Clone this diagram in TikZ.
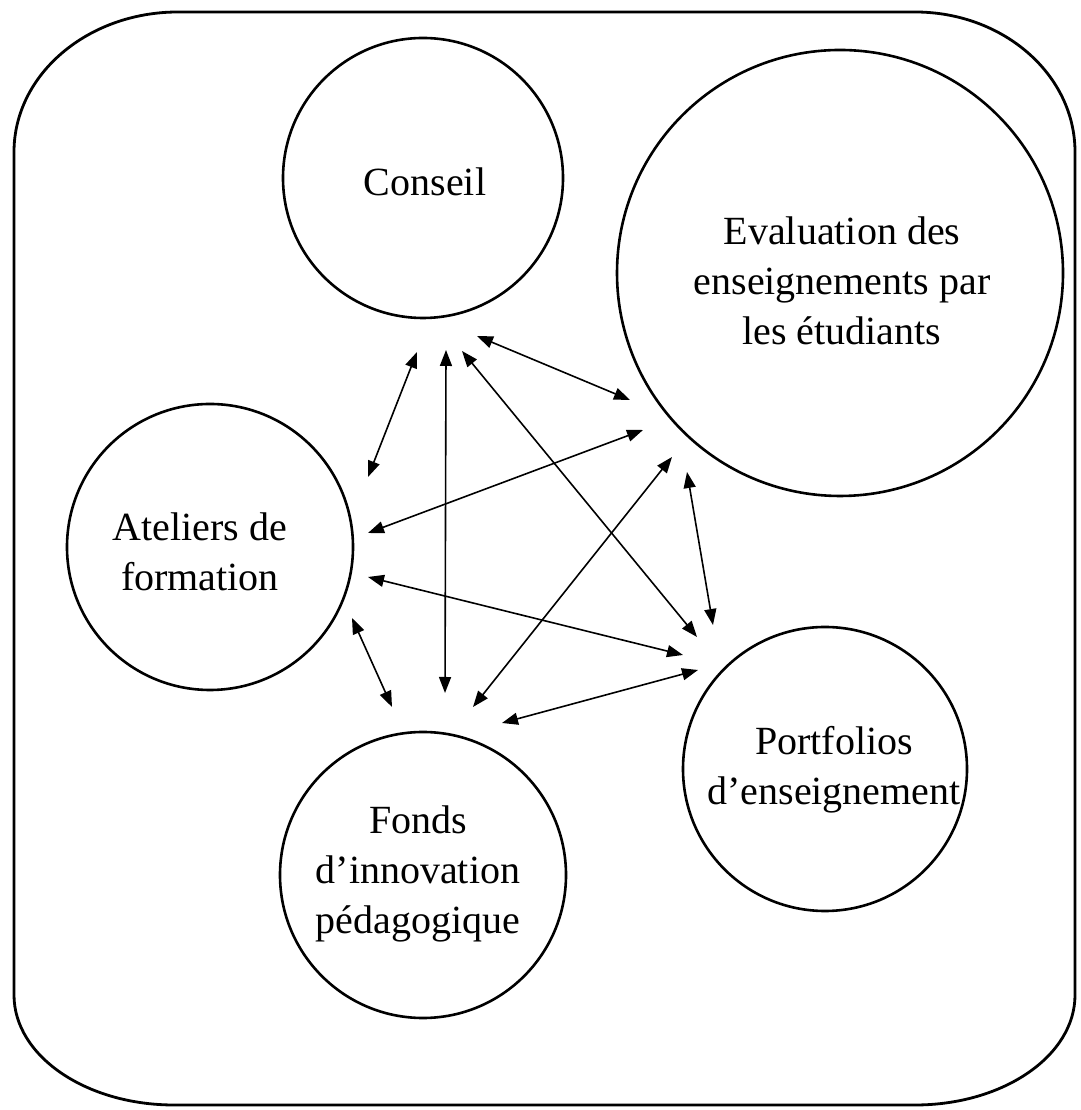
\documentclass[tikz,border=0pt]{standalone}
\usepackage{fontspec}
\setmainfont{Liberation Serif}
\usetikzlibrary{arrows.meta}
\begin{document}
\begin{tikzpicture}[x=1pt,y=1pt,
  circ/.style={draw, circle, line width=2.6pt, inner sep=0pt},
  lbl/.style={align=center, inner sep=0pt, font=\fontsize{40}{50}\selectfont},
  arr/.style={line width=1.6pt, {Triangle[length=16pt,width=12pt]}-{Triangle[length=16pt,width=12pt]}},
  frame/.style={line width=2.8pt}]
\useasboundingbox (0,0) rectangle (1080,1110);
\fill[white] (0,0) rectangle (1080,1110);
% outer frame
\draw[frame] (178,1098) -- (915,1098)
  arc[start angle=90, end angle=0, x radius=160, y radius=140]
  -- (1075,115)
  arc[start angle=0, end angle=-90, x radius=160, y radius=110]
  -- (174,5)
  arc[start angle=-90, end angle=-180, x radius=160, y radius=110]
  -- (14,958)
  arc[start angle=180, end angle=90, x radius=164, y radius=140]
  -- cycle;
% circles
\node[circ, minimum size=280pt] (conseil) at (423,932) {};
\node[circ, minimum size=446pt] (evalu) at (840,837) {};
\node[circ, minimum size=286pt] (ateliers) at (210,563) {};
\node[circ, minimum size=284pt] (portf) at (825,341) {};
\node[circ, minimum size=286pt] (fonds) at (423,235) {};
% texts
\node[lbl] (conseilT) at (425,928) {Conseil};
\node[lbl] (evaluT) at (842,829) {Evaluation des\\enseignements par\\les étudiants};
\node[lbl] (ateliersT) at (200,558) {Ateliers de\\formation};
\node[lbl] (portfT) at (834,340) {Portfolios\\d’enseignement};
\node[lbl] (fondsT) at (418,236) {Fonds\\d’innovation\\pédagogique};
% arrow end points
\coordinate (ca1) at (417,758); \coordinate (ca2) at (368,633);
\coordinate (cf1) at (446,760); \coordinate (cf2) at (445,417);
\coordinate (cp1) at (462,759); \coordinate (cp2) at (697,473);
\coordinate (ce1) at (477,774); \coordinate (ce2) at (630,710);
\coordinate (ae1) at (368,577); \coordinate (ae2) at (643,680);
\coordinate (fe1) at (473,403); \coordinate (fe2) at (672,653);
\coordinate (ep1) at (687,638); \coordinate (ep2) at (713,485);
\coordinate (ap1) at (368,533); \coordinate (ap2) at (683,455);
\coordinate (af1) at (352,492); \coordinate (af2) at (392,403);
\coordinate (fp1) at (502,387); \coordinate (fp2) at (698,440);
% arrows
\draw[arr] (ca1) -- (ca2);
\draw[arr] (cf1) -- (cf2);
\draw[arr] (cp1) -- (cp2);
\draw[arr] (ce1) -- (ce2);
\draw[arr] (ae1) -- (ae2);
\draw[arr] (fe1) -- (fe2);
\draw[arr] (ep1) -- (ep2);
\draw[arr] (ap1) -- (ap2);
\draw[arr] (af1) -- (af2);
\draw[arr] (fp1) -- (fp2);
\end{tikzpicture}
\end{document}
